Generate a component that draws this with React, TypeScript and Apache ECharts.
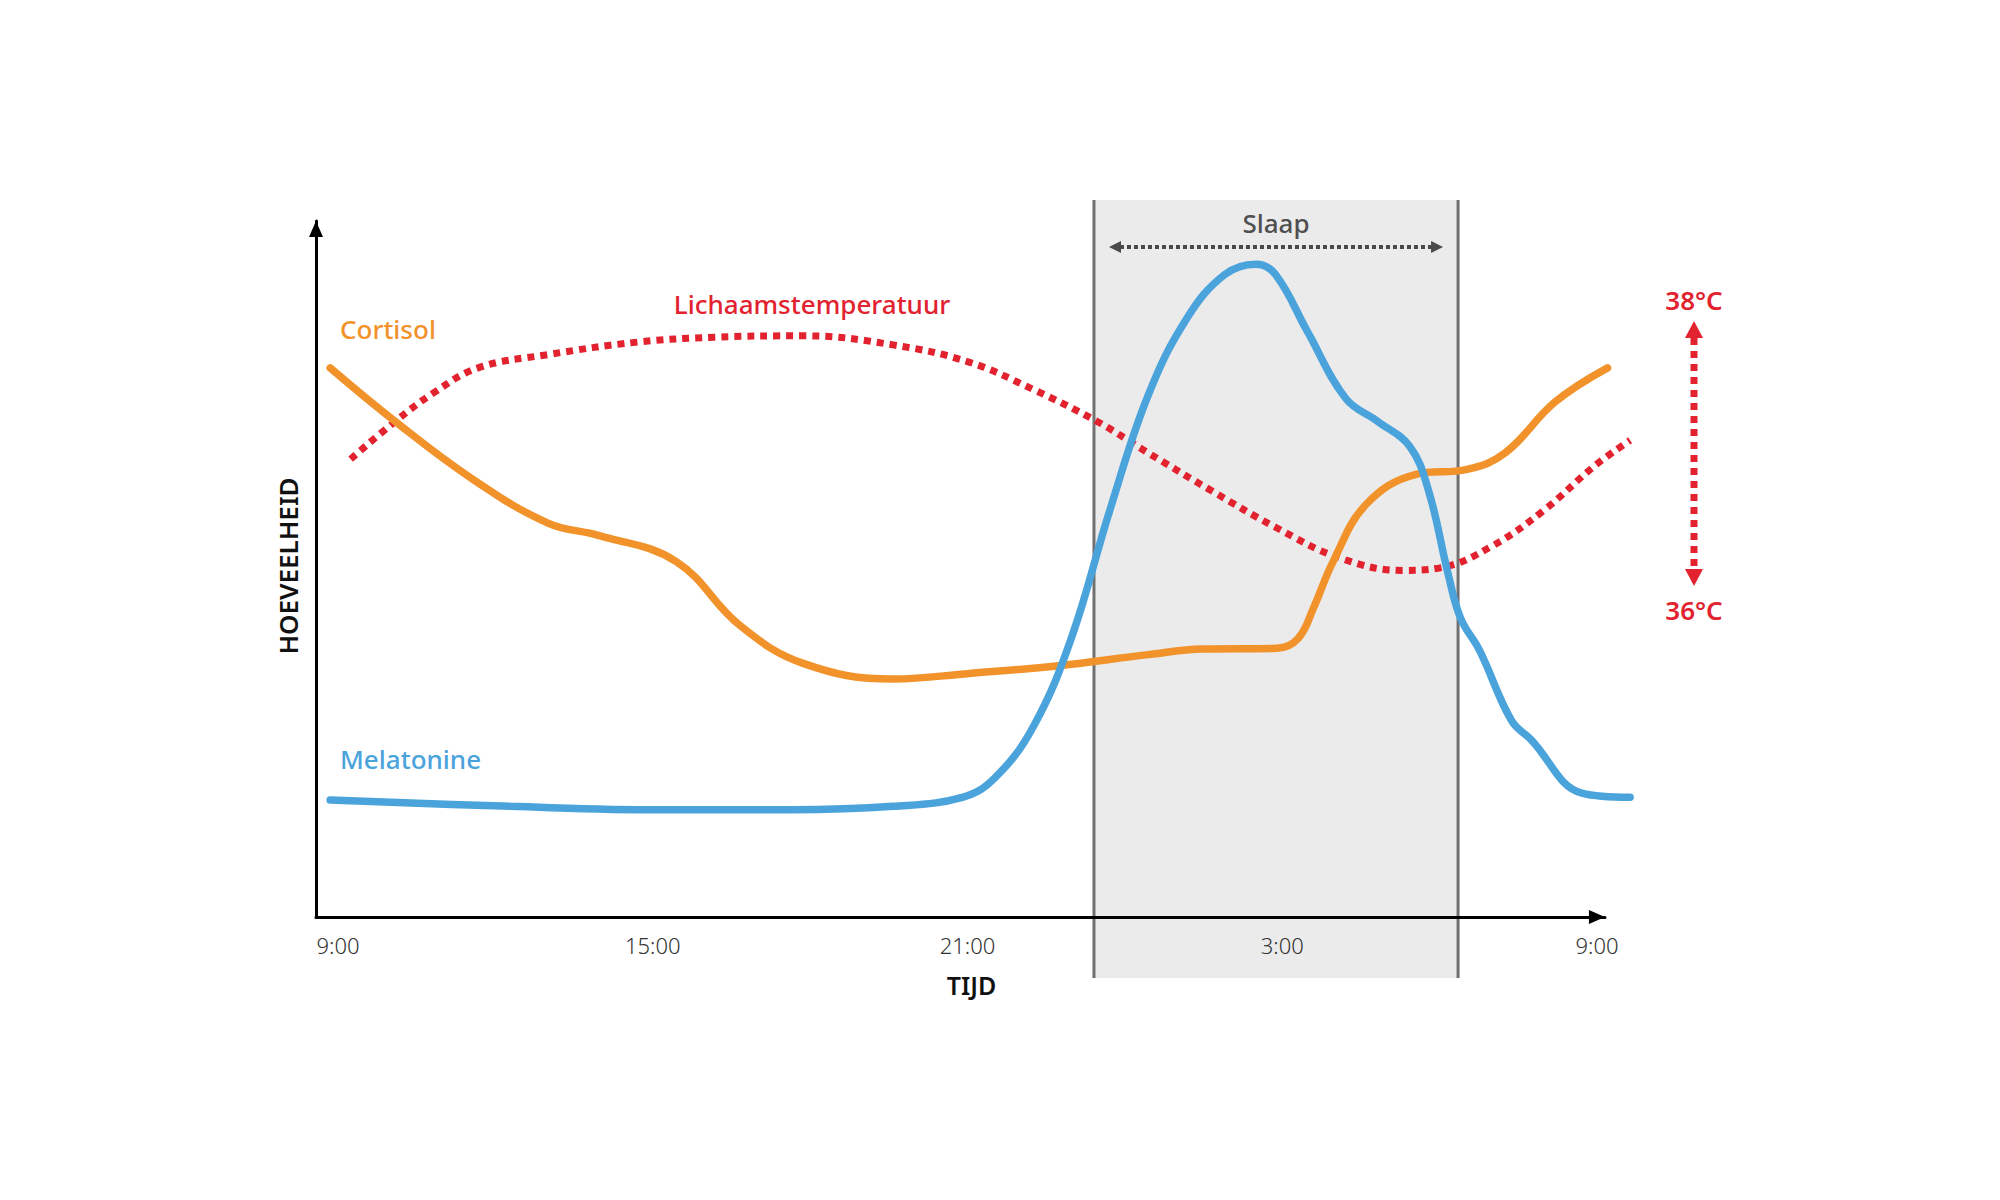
import { useEffect, useRef } from "react";
import * as echarts from "echarts";

// Hours since midnight of day 1 (24+ = next day)
const tickHours = [9, 15, 21, 27, 33];
const tickLabels = ["9:00", "15:00", "21:00", "3:00", "9:00"];

const cortisolHours = [8.85, 10.09, 11.55, 13.0, 13.98, 15.44, 16.66, 17.88, 19.58, 21.04, 22.74, 24.44, 25.5, 26.9, 27.3, 27.6, 27.97, 28.6, 29.55, 30.52, 31.25, 32.2, 33.2];
const cortisolValues = [78.9, 71.2, 63.0, 56.6, 54.8, 51.1, 41.9, 36.4, 34.2, 35.0, 36.1, 37.7, 38.5, 38.6, 40.0, 44.5, 51.1, 59.3, 63.6, 64.3, 66.7, 74.0, 78.9];

const melatoninHours = [8.85, 12.28, 15.2, 17.63, 19.58, 20.9, 21.52, 22.25, 22.98, 23.71, 24.44, 25.17, 25.9, 26.5, 26.87, 27.48, 28.21, 28.82, 29.43, 29.79, 30.16, 30.4, 30.76, 31.37, 31.74, 32.71, 33.63];
const melatoninValues = [16.8, 15.9, 15.4, 15.4, 15.9, 17.2, 20.0, 27.3, 40.1, 58.4, 74.9, 85.9, 92.3, 93.8, 92.3, 84.1, 74.5, 71.2, 67.6, 61.2, 49.3, 42.9, 38.3, 28.2, 25.5, 17.8, 17.2];

const temperatureHours = [9.24, 10.09, 10.82, 11.67, 13.0, 14.71, 16.17, 17.88, 19.58, 21.04, 22.25, 23.47, 24.44, 25.66, 26.87, 28.09, 29.3, 30.03, 31.0, 31.98, 32.95, 33.63];
const temperatureValues = [65.8, 71.2, 75.3, 78.9, 80.8, 82.6, 83.3, 83.5, 82.2, 79.7, 75.8, 71.2, 66.7, 61.2, 56.0, 51.6, 49.8, 50.2, 53.3, 58.4, 64.8, 68.5];

const sleepStart = 23.41;
const sleepEnd = 30.35;

const zip = (xs: number[], ys: number[]) => xs.map((x, i) => [x, ys[i]]);

const ORANGE = "#F2922B";
const BLUE = "#4BA3DC";
const RED = "#E2222F";
const FONT = "'Noto Sans', sans-serif";

// axis layout
const X_MIN = 8.58;
const X_AXIS_MAX = 33.15;
const X_DATA_MAX = 33.7;
const GRID_LEFT = 316;
const PX_PER_HOUR = 52.46;

export default function App() {
  const ref = useRef<HTMLDivElement>(null);

  useEffect(() => {
    if (!ref.current) return;
    const chart = echarts.init(ref.current, null, { renderer: "svg" });

    const axisRight = 2000 - (GRID_LEFT + PX_PER_HOUR * (X_AXIS_MAX - X_MIN));
    const dataRight = 2000 - (GRID_LEFT + PX_PER_HOUR * (X_DATA_MAX - X_MIN));

    const option: any = {
      animation: false,
      backgroundColor: "#ffffff",
      grid: [
        { left: GRID_LEFT, right: axisRight, top: 221, bottom: 283, containLabel: false },
        { left: GRID_LEFT, right: dataRight, top: 221, bottom: 283, containLabel: false },
      ],
      xAxis: [
        {
          gridIndex: 0,
          type: "value",
          min: X_MIN,
          max: X_AXIS_MAX,
          name: "TIJD",
          nameLocation: "middle",
          nameGap: 55,
          nameTextStyle: { fontFamily: FONT, fontWeight: 600, fontSize: 25, color: "#111", padding: [0, 0, 0, 22] },
          axisLine: { show: true, lineStyle: { color: "#000", width: 3 }, symbol: ["none", "triangle"], symbolSize: [14, 16], symbolOffset: [0, -8] },
          axisTick: { show: false },
          splitLine: { show: false },
          axisLabel: {
            customValues: tickHours,
            margin: 17,
            fontFamily: FONT,
            fontSize: 22,
            fontWeight: 300,
            color: "#333",
            formatter: (v: number) => {
              const i = tickHours.indexOf(v);
              return i >= 0 ? tickLabels[i] : "";
            },
          },
          z: 3,
        },
        {
          gridIndex: 1,
          type: "value",
          min: X_MIN,
          max: X_DATA_MAX,
          show: false,
        },
      ],
      yAxis: [
        {
          gridIndex: 0,
          type: "value",
          min: 0,
          max: 100,
          axisLine: { show: true, onZero: false, lineStyle: { color: "#000", width: 3 }, symbol: ["none", "triangle"], symbolSize: [14, 16], symbolOffset: [0, -8] },
          axisTick: { show: false },
          axisLabel: { show: false },
          splitLine: { show: false },
          z: 3,
        },
        {
          gridIndex: 1,
          type: "value",
          min: 0,
          max: 100,
          show: false,
        },
      ],
      graphic: [
        { type: "text", x: 288, y: 566, rotation: Math.PI / 2, style: { text: "HOEVEELHEID", fill: "#111", font: `600 26px ${FONT}`, align: "center", verticalAlign: "middle" }, z: 10 },
        { type: "text", left: 340, top: 316, style: { text: "Cortisol", fill: ORANGE, font: `500 26px ${FONT}` }, z: 10 },
        { type: "text", x: 812, y: 304, style: { text: "Lichaamstemperatuur", fill: RED, font: `500 26px ${FONT}`, align: "center", verticalAlign: "middle" }, z: 10 },
        { type: "text", left: 340, top: 746, style: { text: "Melatonine", fill: BLUE, font: `500 26px ${FONT}` }, z: 10 },
        { type: "text", x: 1694, y: 300, style: { text: "38°C", fill: RED, font: `600 26px ${FONT}`, align: "center", verticalAlign: "middle" }, z: 10 },
        { type: "text", x: 1694, y: 610, style: { text: "36°C", fill: RED, font: `600 26px ${FONT}`, align: "center", verticalAlign: "middle" }, z: 10 },
        { type: "line", shape: { x1: 1694, y1: 338, x2: 1694, y2: 570 }, style: { stroke: RED, lineWidth: 7, lineDash: [7, 6] }, z: 10 },
        { type: "polygon", shape: { points: [[1694, 321], [1685, 338], [1703, 338]] }, style: { fill: RED }, z: 10 },
        { type: "polygon", shape: { points: [[1694, 586], [1685, 569], [1703, 569]] }, style: { fill: RED }, z: 10 },
      ],
      series: [
        {
          type: "custom",
          xAxisIndex: 1,
          yAxisIndex: 1,
          z: -1,
          clip: false,
          silent: true,
          data: [[sleepStart, sleepEnd]],
          renderItem: (_params: any, api: any) => {
            const x0 = api.coord([api.value(0), 0])[0];
            const x1 = api.coord([api.value(1), 0])[0];
            const top = api.coord([0, 100])[1] - 21;
            const bottom = api.coord([0, 0])[1] + 61;
            const ay = top + 47;
            return {
              type: "group",
              children: [
                { type: "rect", shape: { x: x0, y: top, width: x1 - x0, height: bottom - top }, style: { fill: "#EBEBEB" } },
                { type: "line", shape: { x1: x0, y1: top, x2: x0, y2: bottom }, style: { stroke: "#707070", lineWidth: 3 } },
                { type: "line", shape: { x1: x1, y1: top, x2: x1, y2: bottom }, style: { stroke: "#707070", lineWidth: 3 } },
                { type: "text", style: { text: "Slaap", x: (x0 + x1) / 2, y: top + 23, align: "center", verticalAlign: "middle", fill: "#4f4f4f", font: `500 26px ${FONT}` } },
                { type: "line", shape: { x1: x0 + 26, y1: ay, x2: x1 - 26, y2: ay }, style: { stroke: "#4a4a4a", lineWidth: 4, lineDash: [4, 3] } },
                { type: "polygon", shape: { points: [[x0 + 15, ay], [x0 + 27, ay - 6], [x0 + 27, ay + 6]] }, style: { fill: "#4a4a4a" } },
                { type: "polygon", shape: { points: [[x1 - 15, ay], [x1 - 27, ay - 6], [x1 - 27, ay + 6]] }, style: { fill: "#4a4a4a" } },
              ],
            };
          },
        },
        {
          name: "Lichaamstemperatuur",
          type: "line",
          xAxisIndex: 1,
          yAxisIndex: 1,
          smooth: 0.4,
          symbol: "none",
          data: zip(temperatureHours, temperatureValues),
          lineStyle: { color: RED, width: 7, type: [7, 6], cap: "butt" },
          z: 3,
        },
        {
          name: "Cortisol",
          type: "line",
          xAxisIndex: 1,
          yAxisIndex: 1,
          smooth: 0.4,
          symbol: "none",
          data: zip(cortisolHours, cortisolValues),
          lineStyle: { color: ORANGE, width: 7.5, cap: "round" },
          z: 4,
        },
        {
          name: "Melatonine",
          type: "line",
          xAxisIndex: 1,
          yAxisIndex: 1,
          smooth: 0.4,
          symbol: "none",
          data: zip(melatoninHours, melatoninValues),
          lineStyle: { color: BLUE, width: 7.5, cap: "round" },
          z: 5,
        },
      ],
    };

    chart.setOption(option);
    return () => chart.dispose();
  }, []);

  return <div ref={ref} style={{ position: "absolute", left: 0, top: 0, width: 2000, height: 1200 }} />;
}
